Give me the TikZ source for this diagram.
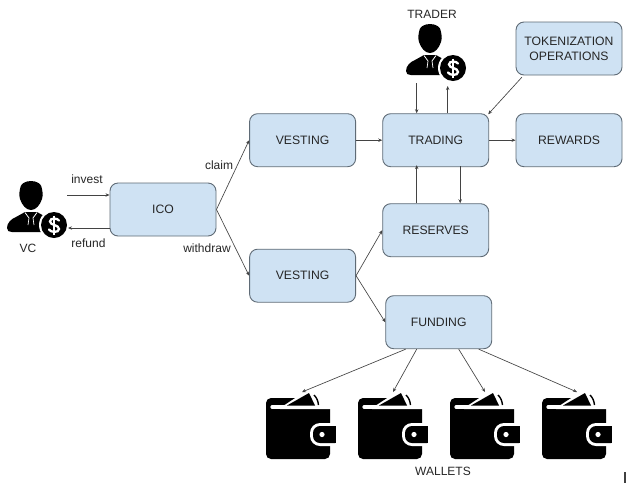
\documentclass[tikz,border=0pt]{standalone}
\usepackage{fontspec}
\setmainfont{Liberation Sans}
\usetikzlibrary{arrows.meta}
\definecolor{boxfill}{HTML}{CFE2F3}
\definecolor{boxline}{HTML}{5F6B76}
\definecolor{wire}{HTML}{434343}
\tikzset{
  x=1pt,y=-1pt,
  flowbox/.style={draw=boxline,fill=boxfill,line width=0.9pt,rounded corners=8pt,minimum width=106pt,minimum height=53pt,inner sep=0pt,align=center,font=\fontsize{12.2}{15}\selectfont,text=black!85},
  lbl/.style={inner sep=0pt,font=\fontsize{12}{14}\selectfont,text=black!85},
  wire/.style={draw=wire,line width=0.65pt,-{Stealth[length=4pt,width=3.4pt]}},
  walleticon/.pic={
    \fill[black,rounded corners=5pt] (0,3) rectangle (64,64);
    \fill[white] (14,13) -- (40,-4) -- (66,-4) -- (66,14) -- (14,14) -- cycle;
    \draw[white,line width=3.2pt,line cap=round] (6,12) -- (62,12);
    \fill[black] (21,10.5) -- (43,-2) -- (49,10.5) -- cycle;
    \draw[black,line width=1.4pt] (48,0) .. controls (51,3) and (52,6) .. (52.5,10);
    \fill[white,rounded corners=10pt] (44,28) rectangle (80,51);
    \fill[white] (64,28) rectangle (72,51);
    \fill[black,rounded corners=7pt] (47,31) rectangle (76,48);
    \fill[white] (70,26) rectangle (78,53);
    \fill[white] (56,39.5) circle (2.6);
  },
  personicon/.pic={
    % head
    \fill[black] (20,189)
      .. controls (20,184) and (25,181) .. (31,181)
      .. controls (37,181) and (42,184) .. (42,189)
      .. controls (43,194) and (43,197) .. (42,199)
      .. controls (40,205) and (36,210) .. (31,210)
      .. controls (26,210) and (22,205) .. (20,199)
      .. controls (19,197) and (19,194) .. (20,189) -- cycle;
    % shoulders
    \fill[black] (7,228)
      .. controls (7,223) and (11,219) .. (16,217)
      -- (25,212) -- (37,212) -- (46,217)
      .. controls (50,219) and (53,223) .. (54,232)
      -- (12,232) .. controls (9,232) and (7,231) .. (7,228) -- cycle;
    % collar
    \draw[white,line width=0.8pt] (25,212.5) -- (29,218);
    \draw[white,line width=0.8pt] (37,212.5) -- (33,218);
    \draw[white,line width=0.7pt] (29,218) -- (28,225);
    \draw[white,line width=0.7pt] (33,218) -- (34,225);
    % coin
    \fill[white] (54,225) circle (15);
    \fill[black] (54,225) circle (13);
    \draw[white,line width=2.3pt,line cap=round]
      (59,220.5) .. controls (57.5,218) and (50,217.5) .. (50,221.5)
      .. controls (50,225.5) and (59,224.5) .. (59,229)
      .. controls (59,233) and (50.5,232.5) .. (49,229.5);
    \draw[white,line width=1.8pt] (54.3,215.5) -- (54.3,234.5);
  }
}
\begin{document}
\begin{tikzpicture}
\useasboundingbox (0,0) rectangle (628,483);
\fill[white] (0,0) rectangle (628,483);

% boxes
\node[flowbox] (ico)   at (163,209.5) {ICO};
\node[flowbox] (vesta) at (302.6,140.2) {VESTING};
\node[flowbox] (trading) at (435.7,140.2) {TRADING};
\node[flowbox] (rewards) at (569,140.2) {REWARDS};
\node[flowbox] (token) at (569,48.5) {TOKENIZATION\\OPERATIONS};
\node[flowbox] (reserves) at (435.7,230.2) {RESERVES};
\node[flowbox] (vestb) at (302.6,275.7) {VESTING};
\node[flowbox] (funding) at (438.7,322.2) {FUNDING};

% icons
\pic at (0,0) {personicon};
\pic at (399,-157) {personicon};
\pic at (266,395) {walleticon};
\pic at (358,395) {walleticon};
\pic at (450,395) {walleticon};
\pic at (542,395) {walleticon};

% free ends
\coordinate (vcin) at (67,195);
\coordinate (vcout) at (68,228);
\coordinate (traderdown) at (416.7,83);
\coordinate (traderup) at (447.7,86);
\coordinate (walleta) at (302,392);
\coordinate (walletb) at (393,392);
\coordinate (walletc) at (485,392);
\coordinate (walletd) at (577,392);

% connectors
\draw[wire] (vcin) -- (ico.west |- vcin);
\draw[wire] (ico.west |- vcout) -- (vcout);
\draw[wire] (ico.east) -- (vesta.west);
\draw[wire] (ico.east) -- (vestb.west);
\draw[wire] (vesta.east) -- (trading.west);
\draw[wire] (trading.east) -- (rewards.west);
\draw[wire] (traderdown) -- (traderdown |- trading.north);
\draw[wire] (traderup |- trading.north) -- (traderup);
\draw[wire,shorten <=1pt] (token.south west) ++(7,1) -- ([xshift=-1pt,yshift=-1pt]trading.north east);
\draw[wire] (reserves.north -| traderdown) -- ([yshift=2pt]trading.south -| traderdown);
\draw[wire] ([xshift=24.5pt,yshift=1pt]trading.south) -- ([xshift=24.5pt]reserves.north);
\draw[wire] (vestb.east) -- (reserves.west);
\draw[wire] (vestb.east) -- (funding.west);
\draw[wire] ([xshift=-33pt]funding.south) -- (walleta);
\draw[wire] ([xshift=-22pt]funding.south) -- (walletb);
\draw[wire] ([xshift=20pt]funding.south) -- (walletc);
\draw[wire] ([xshift=40pt]funding.south) -- (walletd);

% labels
\node[lbl] (linvest) at (87,179) {invest};
\node[lbl] (lrefund) at (88.5,243) {refund};
\node[lbl] (lvc) at (28,248) {VC};
\node[lbl] (lclaim) at (219,165) {claim};
\node[lbl] (lwithdraw) at (207,248) {withdraw};
\node[lbl] (ltrader) at (432,14) {TRADER};
\node[lbl] (lwallets) at (443,471) {WALLETS};

% cursor mark
\draw[black!75,line width=1.1pt] (625,472) -- (625,483);
\end{tikzpicture}
\end{document}
